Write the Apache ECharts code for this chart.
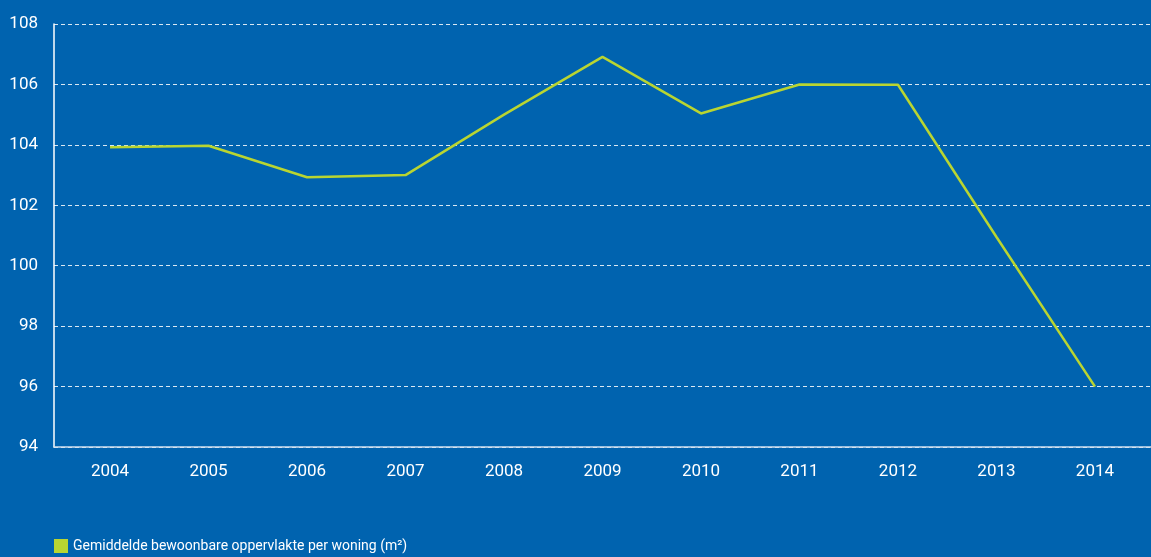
<!DOCTYPE html>
<html>
<head>
<meta charset="utf-8">
<script src="https://cdn.jsdelivr.net/npm/echarts@6/dist/echarts.min.js"></script>
<style>
  html, body { margin: 0; padding: 0; background: #0063af; }
  #chart { width: 1151px; height: 557px; }
</style>
</head>
<body>
<div id="chart"></div>
<script>
  // jaren en gemiddelde oppervlakte (m²)
  const years = [2004, 2005, 2006, 2007, 2008, 2009, 2010, 2011, 2012, 2013, 2014]
  const oppervlakte = [103.92, 103.97, 102.93, 103.0, 105.0, 106.91, 105.04, 106.0, 105.99, 100.95, 96.0]
  const seriesName = 'Gemiddelde bewoonbare oppervlakte per woning (m²)'

  const lineColor = '#b9d531'
  const font = 'Roboto, sans-serif'

  const myChart = echarts.init(document.getElementById('chart'))

  myChart.setOption({
    backgroundColor: '#0063af',
    animation: false,
    grid: {
      left: 54,
      right: 0,
      top: 24,
      bottom: 110
    },
    legend: {
      left: 54,
      top: 539,
      padding: 0,
      icon: 'rect',
      itemWidth: 14,
      itemHeight: 14,
      itemGap: 8,
      data: [seriesName],
      itemStyle: { color: lineColor },
      textStyle: {
        color: '#fff',
        fontSize: 14,
        fontFamily: font
      }
    },
    xAxis: {
      type: 'value',
      min: 2003.431,
      max: 2014.569,
      axisLine: {
        show: true,
        lineStyle: { color: '#cfe0f0', width: 1.5 }
      },
      axisTick: { show: false },
      splitLine: { show: false },
      axisLabel: {
        customValues: years,
        margin: 16,
        color: '#fff',
        fontSize: 17,
        fontFamily: font,
        formatter: v => String(v)
      }
    },
    yAxis: {
      type: 'value',
      min: 94,
      max: 108,
      interval: 2,
      axisLine: {
        show: true,
        lineStyle: { color: '#fff', width: 1.5 }
      },
      axisTick: { show: false },
      axisLabel: {
        margin: 16,
        color: '#fff',
        fontSize: 17,
        fontFamily: font
      },
      splitLine: {
        show: true,
        lineStyle: {
          color: 'rgba(255, 255, 255, 0.85)',
          type: [4, 3],
          width: 1
        }
      }
    },
    series: [{
      name: seriesName,
      type: 'line',
      symbol: 'none',
      lineStyle: { color: lineColor, width: 2.5 },
      itemStyle: { color: lineColor },
      data: years.map((y, i) => [y, oppervlakte[i]])
    }]
  })
</script>
</body>
</html>
